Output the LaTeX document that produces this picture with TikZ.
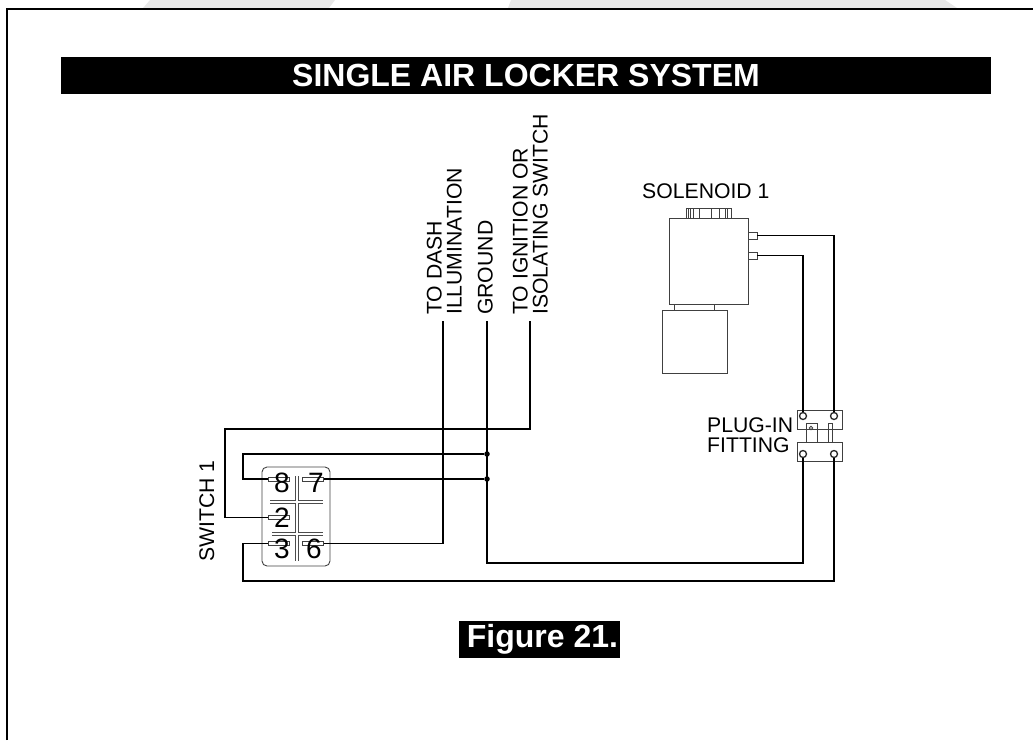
\documentclass[tikz,border=0pt]{standalone}
\usepackage{fontspec}
\setmainfont{Liberation Sans}
\tikzset{
  wire/.style={line width=1.4pt,black},
  part/.style={line width=0.9pt,black!75},
  lbl/.style={inner sep=0pt,font=\fontsize{21.2}{20}\selectfont,align=left},
  num/.style={inner sep=0pt,anchor=base,font=\fontsize{28}{28}\selectfont},
  banner/.style={fill=black,text=white,inner sep=0pt,font=\fontsize{32}{32}\selectfont\bfseries},
  tab/.style={draw,part,fill=white,inner sep=0pt,minimum width=21pt,minimum height=4pt},
  port/.style={draw,part,fill=white,inner sep=0pt,minimum width=9pt,minimum height=7pt},
  hole/.style={circle,draw,line width=1.3pt,black!85,fill=white,inner sep=0pt,minimum size=7pt},
  dot/.style={circle,fill=black,inner sep=0pt,minimum size=5.5pt},
  chan/.style={line width=2.8pt,white,line cap=round,preaction={draw,black!70,line width=4.4pt}}
}
\begin{document}
\begin{tikzpicture}[x=1pt,y=-1pt]
  \useasboundingbox (0,0) rectangle (1033,740);
  \fill[black!9] (150,0) -- (335,0) -- (329,8) -- (143,8) -- cycle;
  \fill[black!9] (511,0) -- (945,0) -- (957,8) -- (508,8) -- cycle;
  \draw[line width=2.6pt] (7,740) -- (7,9) -- (1033,9);

  \node[banner,minimum width=930pt,minimum height=37pt] (title) at (526,75.5) {SINGLE AIR LOCKER SYSTEM};
  \node[banner,minimum width=161pt,minimum height=37pt] (figure) at (539.5,639.5) {\hspace*{6pt}Figure 21.};

  % switch
  \draw[part,rounded corners=5pt] (262,467) rectangle (330,566);
  \draw[chan] (297,476) -- (297,561) (270,502) -- (323,502) (272,534) -- (323,534);
  \node[tab] (tabE) at (278.5,479) {};
  \node[tab] (tabG) at (313,479) {};
  \node[tab] (tabB) at (278.5,517.5) {};
  \node[tab] (tabC) at (278.5,543.5) {};
  \node[tab] (tabF) at (313,543.5) {};
  \node[num] (numE) at (282,492) {8};
  \node[num] (numG) at (316,492) {7};
  \node[num] (numB) at (282,527) {2};
  \node[num] (numC) at (282,558) {3};
  \node[num] (numF) at (314,558) {6};
  \node[lbl,rotate=90,anchor=base west] (swname) at (214,562) {SWITCH 1};

  % labels on top
  \node[lbl,rotate=90,anchor=south west] (dash) at (462,315) {TO DASH\\ILLUMINATION};
  \node[lbl,rotate=90,anchor=south west] (ground) at (493,315) {GROUND};
  \node[lbl,rotate=90,anchor=south west] (ignition) at (548,315) {TO IGNITION OR\\ISOLATING SWITCH};
  \coordinate (dashend) at (443,321);
  \coordinate (gndend) at (487,321);
  \coordinate (ignend) at (530,321);

  % solenoid
  \node[lbl,anchor=base west] (solname) at (642,198) {SOLENOID 1};
  \draw[part] (669,218) rectangle (748,304);
  \draw[part] (662,310) rectangle (727,373);
  \draw[part] (686,208) rectangle (731,218);
  \foreach \x in {688,690,693,699,711,719,725,727} {
    \draw[part] (\x,208) -- (\x,218);
  }
  \draw[part] (674,304) -- (674,310);
  \draw[part] (714,304) -- (714,310);
  \node[port] (portA) at (752.5,235.5) {};
  \node[port] (portB) at (752.5,255.5) {};

  % plug-in fitting
  \draw[part] (806,442) -- (806,423) -- (817,423) -- (817,442);
  \draw[part] (828,442) -- (828,423) -- (832,423) -- (832,442);
  \node[circle,draw,part,inner sep=0pt,minimum size=3.5pt] (pin) at (811,428) {};
  \draw[part] (797,410) rectangle (842,429);
  \draw[part] (797,442) rectangle (842,461);
  \node[hole] (holeA) at (803,416) {};
  \node[hole] (holeB) at (834,416) {};
  \node[hole] (holeC) at (803,454) {};
  \node[hole] (holeD) at (834,454) {};
  \node[lbl,anchor=south west] (plugname) at (707,453) {PLUG-IN\\FITTING};

  % wires
  \node[dot] (jctA) at (487,454) {};
  \node[dot] (jctB) at (487,479) {};
  \coordinate (cnrA) at (243,454);
  \coordinate (cnrB) at (225,429);
  \coordinate (cnrC) at (803,563);
  \coordinate (cnrD) at (243,581);
  \draw[wire] (tabE.west) -| (cnrA) -- (jctA);
  \draw[wire] (tabG.east) -- (jctB);
  \draw[wire] (tabB.west) -| (cnrB) -| (ignend);
  \draw[wire] (tabC.west) -| (cnrD) -| (holeD.south);
  \draw[wire] (tabF.east) -| (dashend);
  \draw[wire] (gndend) |- (cnrC) -- (holeC.south);
  \draw[wire] (portA.east) -| (holeB.north);
  \draw[wire] (portB.east) -| (holeA.north);
\end{tikzpicture}
\end{document}
